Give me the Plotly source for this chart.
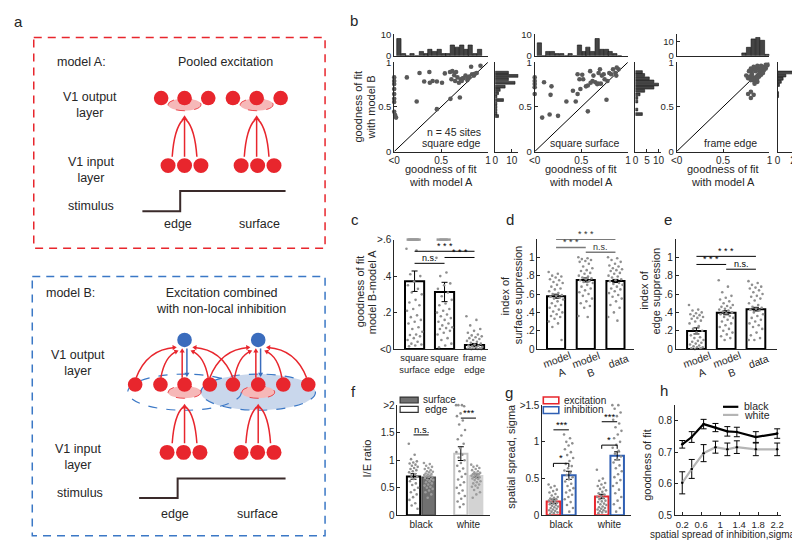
import math
import plotly.graph_objects as go

W, H = 800, 542
FONT = "Liberation Sans, Arial, Helvetica, sans-serif"
INK = "#262626"
RED = "#e8262d"
BLUE = "#2f5fb3"
DOT = "#8f8f8f"

# ======================= DATA =======================
# ---- panel b : goodness of fit, model A (x) vs model B (y), 45 sites ----
b1_model_a = [0, 0, 0, 0, 0, 0, 0, 0, 0.01, 0.02, 0.135, 0.24, 0.27, 0.375, 0.32, 0.38, 0.41,
              0.455, 0.51, 0.455, 0.54, 0.595, 0.62, 0.66, 0.64, 0.61, 0.65, 0.675, 0.69, 0.71,
              0.73, 0.76, 0.82, 0.92, 0.83, 0.79, 0.85, 0.88, 0.70, 0.60, 0.72, 0.78, 0.74, 0.80, 0.86]
b1_model_b = [0.83, 0.79, 0.755, 0.70, 0.645, 0.59, 0.555, 0.445, 0.41, 0.38, 0.83, 0.56, 0.88,
              0.89, 0.785, 0.77, 0.79, 0.785, 0.77, 0.475, 0.875, 0.89, 0.90, 0.89, 0.855, 0.81,
              0.79, 0.83, 0.77, 0.81, 0.82, 0.85, 0.95, 0.96, 0.865, 0.83, 0.85, 0.88, 0.605, 0.59,
              0.79, 0.80, 0.82, 0.84, 0.87]
b2_model_a = [0, 0, 0, 0, 0, 0.10, 0.08, 0.16, 0.17, 0.18, 0.25, 0.34, 0.41, 0.44, 0.46, 0.49,
              0.46, 0.48, 0.51, 0.52, 0.57, 0.57, 0.595, 0.63, 0.65, 0.67, 0.685, 0.70, 0.72, 0.74,
              0.71, 0.77, 0.78, 0.82, 0.84, 0.865, 0.88, 0.90, 0.875, 0.80, 0.75, 0.62, 0.55, 0.68, 0.60]
b2_model_b = [0.83, 0.79, 0.755, 0.72, 0.645, 0.775, 0.38, 0.415, 0.635, 0.73, 0.40, 0.56, 0.68,
              0.56, 0.645, 0.70, 0.865, 0.81, 0.86, 0.81, 0.45, 0.74, 0.90, 0.85, 0.775, 0.755,
              0.88, 0.92, 0.85, 0.865, 0.76, 0.58, 0.79, 0.865, 0.92, 0.88, 0.94, 0.92, 0.85, 0.88,
              0.81, 0.79, 0.73, 0.76, 0.77]
b3_model_a = [0.75, 0.77, 0.79, 0.80, 0.81, 0.82, 0.83, 0.84, 0.85, 0.86, 0.87, 0.87, 0.88, 0.89,
              0.90, 0.91, 0.92, 0.93, 0.94, 0.95, 0.96, 0.97, 0.98, 0.96, 0.94, 0.92, 0.90, 0.88,
              0.86, 0.84, 0.82, 0.80, 0.83, 0.87, 0.91, 0.85, 0.89, 0.93, 0.81, 0.78, 0.77, 0.80,
              0.83, 0.80, 0.84]
b3_model_b = [0.85, 0.82, 0.84, 0.80, 0.86, 0.83, 0.80, 0.78, 0.82, 0.84, 0.82, 0.78, 0.86, 0.84,
              0.88, 0.86, 0.90, 0.92, 0.94, 0.95, 0.93, 0.96, 0.97, 0.97, 0.91, 0.94, 0.92, 0.93,
              0.94, 0.93, 0.92, 0.93, 0.95, 0.96, 0.96, 0.90, 0.90, 0.88, 0.88, 0.90, 0.645, 0.60,
              0.635, 0.67, 0.76]
b_top_bins = [0.05, 0.10, 0.14, 0.19, 0.24, 0.29, 0.34, 0.38, 0.43, 0.48, 0.53, 0.57, 0.62,
              0.67, 0.72, 0.77, 0.81, 0.86, 0.91]
b1_top_counts = [8, 1, 0, 1, 0, 2, 1, 3, 2, 3, 1, 1, 5, 4, 5, 3, 5, 1, 3]
b2_top_counts = [6, 0, 2, 2, 1, 1, 0, 1, 0, 5, 2, 4, 2, 8, 3, 3, 2, 1, 0]
b3_top_bins = [0.725, 0.775, 0.825, 0.875, 0.925, 0.975]
b3_top_counts = [2, 6, 12, 13, 11, 1]
b1_right_bins = [0.398, 0.427, 0.464, 0.50, 0.536, 0.577, 0.617, 0.653, 0.69, 0.726, 0.77,
                 0.81, 0.847, 0.883]
b1_right_counts = [2, 1, 1, 1, 1, 5, 1, 2, 3, 6, 12, 8, 14, 8]
b2_right_bins = [0.42, 0.47, 0.56, 0.60, 0.64, 0.68, 0.715, 0.75, 0.785, 0.82, 0.857, 0.89]
b2_right_counts = [3, 1, 1, 1, 2, 4, 8, 10, 8, 6, 4, 3]
b3_right_bins = [0.62, 0.655, 0.745, 0.78, 0.815, 0.85, 0.885]
b3_right_counts = [1, 1, 2, 4, 6, 9, 21]
b_titles = ["square edge", "square surface", "frame edge"]

# ---- panel c ----
c_labels = ["square<br>surface", "square<br>edge", "frame<br>edge"]
c_means = [0.372, 0.313, 0.023]
c_errs = [0.056, 0.053, 0.008]
c_points = [
    [0.55, 0.54, 0.41, 0.40, 0.37, 0.35, 0.33, 0.31, 0.30, 0.27, 0.255, 0.24, 0.22, 0.21, 0.185,
     0.175, 0.16, 0.15, 0.14, 0.12, 0.11, 0.095, 0.08, 0.077, 0.07, 0.06, 0.05, 0.04, 0.03, 0.025,
     0.02, 0.015],
    [0.50, 0.42, 0.40, 0.36, 0.35, 0.33, 0.31, 0.29, 0.27, 0.25, 0.24, 0.22, 0.21, 0.20, 0.19,
     0.18, 0.17, 0.16, 0.15, 0.14, 0.13, 0.12, 0.115, 0.11, 0.10, 0.09, 0.08, 0.06, 0.05, 0.03,
     0.02, 0.01],
    [0.18, 0.16, 0.13, 0.11, 0.10, 0.09, 0.08, 0.075, 0.07, 0.065, 0.06, 0.055, 0.05, 0.045, 0.04,
     0.035, 0.03, 0.025, 0.02, 0.018, 0.015, 0.012, 0.01, 0.008, 0.005, 0.003, 0.002, 0.001, 0.0, 0.0],
]
c_clipped = [3, 2, 0]          # points above the ">.6" limit
c_sig = [(1, 3, 0.536, "* * *"), (2, 3, 0.502, "* * *"), (1, 2, 0.47, "n.s.")]

# ---- panels d, e ----
de_labels = ["model<br>A", "model<br>B", "data"]
d_means = [0.576, 0.753, 0.742]
d_errs = [0.022, 0.022, 0.017]
d_points = [
    [0.84, 0.82, 0.80, 0.79, 0.78, 0.76, 0.75, 0.73, 0.72, 0.70, 0.68, 0.66, 0.65, 0.63, 0.61,
     0.60, 0.59, 0.58, 0.57, 0.56, 0.55, 0.54, 0.52, 0.50, 0.48, 0.47, 0.45, 0.43, 0.41, 0.40,
     0.38, 0.36, 0.35, 0.33, 0.30, 0.28, 0.24, 0.10],
    [1.0, 0.99, 0.98, 0.97, 0.96, 0.95, 0.93, 0.90, 0.88, 0.86, 0.85, 0.83, 0.82, 0.80, 0.79,
     0.78, 0.77, 0.76, 0.75, 0.74, 0.73, 0.72, 0.70, 0.68, 0.66, 0.64, 0.62, 0.60, 0.58, 0.55,
     0.52, 0.50, 0.47, 0.45, 0.36, 0.35],
    [1.0, 0.99, 0.97, 0.95, 0.93, 0.91, 0.90, 0.88, 0.87, 0.86, 0.85, 0.83, 0.82, 0.80, 0.79,
     0.78, 0.76, 0.75, 0.74, 0.72, 0.71, 0.70, 0.68, 0.66, 0.65, 0.63, 0.61, 0.59, 0.57, 0.55,
     0.52, 0.48, 0.45, 0.40, 0.35, 0.31],
]
d_sig = [(1, 3, 1.195, "* * *"), (1, 2, 1.107, "* * *"), (2, 3, 1.054, "n.s.")]
e_means = [0.198, 0.396, 0.435]
e_errs = [0.033, 0.022, 0.02]
e_points = [
    [0.48, 0.43, 0.42, 0.40, 0.39, 0.38, 0.37, 0.36, 0.35, 0.34, 0.33, 0.31, 0.30, 0.28, 0.25,
     0.22, 0.20, 0.18, 0.15, 0.13, 0.12, 0.10, 0.09, 0.08, 0.07, 0.06, 0.05, 0.04, 0.03, 0.02,
     0.02, 0.01, 0.01, 0.0],
    [0.75, 0.68, 0.62, 0.58, 0.56, 0.54, 0.52, 0.50, 0.48, 0.47, 0.46, 0.45, 0.44, 0.43, 0.42,
     0.41, 0.40, 0.39, 0.38, 0.36, 0.35, 0.34, 0.32, 0.30, 0.28, 0.26, 0.24, 0.22, 0.20, 0.18,
     0.16, 0.14, 0.12, 0.10],
    [0.74, 0.72, 0.70, 0.68, 0.67, 0.66, 0.64, 0.62, 0.60, 0.58, 0.57, 0.55, 0.53, 0.50, 0.48,
     0.46, 0.45, 0.44, 0.43, 0.42, 0.40, 0.38, 0.36, 0.34, 0.32, 0.30, 0.28, 0.26, 0.24, 0.22,
     0.18, 0.15, 0.12, 0.10, 0.10],
]
e_sig = [(1, 3, 1.01, "* * *"), (1, 2, 0.922, "* * *"), (2, 3, 0.87, "n.s.")]

# ---- panel f : I/E ratio ----
fg_groups = ["black", "white"]
f_edge_means = [0.706, 1.12]
f_edge_errs = [0.05, 0.125]
f_surface_means = [0.69, 0.72]
f_surface_errs = [0.02, 0.03]
f_edge_points = [
    [1.30, 1.10, 1.02, 0.98, 0.96, 0.94, 0.92, 0.90, 0.88, 0.86, 0.84, 0.82, 0.80, 0.78, 0.75,
     0.72, 0.70, 0.66, 0.62, 0.58, 0.55, 0.50, 0.46, 0.42, 0.38, 0.33, 0.28, 0.22, 0.18, 0.12],
    [2.0, 2.0, 2.0, 1.98, 1.85, 1.80, 1.72, 1.65, 1.55, 1.45, 1.38, 1.30, 1.22, 1.15, 1.10, 1.05,
     1.0, 0.95, 0.9, 0.85, 0.8, 0.75, 0.7, 0.65, 0.6, 0.55, 0.5, 0.45, 0.4, 0.35, 0.3, 0.25, 0.2, 0.15],
]
f_surface_points = [
    [0.95, 0.93, 0.90, 0.88, 0.86, 0.84, 0.82, 0.80, 0.79, 0.78, 0.76, 0.75, 0.74, 0.73, 0.72,
     0.71, 0.70, 0.69, 0.68, 0.66, 0.65, 0.64, 0.62, 0.60, 0.58, 0.56, 0.54, 0.52, 0.50, 0.48,
     0.45, 0.42, 0.38, 0.32],
    [0.92, 0.90, 0.88, 0.86, 0.84, 0.82, 0.80, 0.78, 0.77, 0.76, 0.75, 0.74, 0.73, 0.72, 0.71,
     0.70, 0.69, 0.68, 0.67, 0.66, 0.64, 0.62, 0.60, 0.58, 0.56, 0.54, 0.52, 0.50, 0.46, 0.42,
     0.38, 0.32],
]
f_sig = [(1, 1.46, "n.s."), (2, 1.765, "***")]

# ---- panel g : spatial spread ----
g_exc_means = [0.19, 0.257]
g_exc_errs = [0.03, 0.03]
g_inh_means = [0.545, 0.81]
g_inh_errs = [0.055, 0.055]
g_exc_points = [
    [0.42, 0.40, 0.38, 0.35, 0.33, 0.31, 0.29, 0.27, 0.25, 0.24, 0.23, 0.22, 0.21, 0.20, 0.19,
     0.18, 0.17, 0.16, 0.15, 0.14, 0.13, 0.12, 0.11, 0.10, 0.09, 0.08, 0.07, 0.06, 0.05, 0.04,
     0.03, 0.02],
    [0.62, 0.50, 0.47, 0.44, 0.42, 0.40, 0.38, 0.36, 0.34, 0.32, 0.30, 0.28, 0.26, 0.25, 0.24,
     0.22, 0.20, 0.19, 0.18, 0.16, 0.15, 0.14, 0.12, 0.11, 0.10, 0.09, 0.08, 0.07, 0.06, 0.05,
     0.04, 0.03],
]
g_inh_points = [
    [1.10, 1.05, 1.00, 0.98, 0.95, 0.90, 0.86, 0.82, 0.78, 0.74, 0.70, 0.67, 0.64, 0.61, 0.58,
     0.55, 0.52, 0.49, 0.46, 0.43, 0.40, 0.37, 0.34, 0.31, 0.28, 0.25, 0.22, 0.18, 0.14, 0.10, 0.05],
    [1.50, 1.50, 1.45, 1.40, 1.35, 1.30, 1.25, 1.20, 1.15, 1.10, 1.05, 1.00, 0.96, 0.92, 0.88,
     0.84, 0.80, 0.76, 0.72, 0.68, 0.64, 0.60, 0.56, 0.52, 0.48, 0.44, 0.40, 0.35, 0.30, 0.25,
     0.20, 0.15, 0.10, 0.05],
]
g_sig_main = [(1, 1.164, "***"), (2, 1.274, "***")]
g_sig_bracket = [(1, 0.708, "*"), (2, 0.956, "*")]

# ---- panel h ----
h_sigma = [0.2, 0.4, 0.65, 0.9, 1.15, 1.35, 1.75, 2.2]
h_black = [0.725, 0.748, 0.789, 0.778, 0.766, 0.764, 0.748, 0.759]
h_black_err = [0.012, 0.017, 0.015, 0.013, 0.015, 0.015, 0.017, 0.015]
h_white = [0.603, 0.647, 0.697, 0.716, 0.709, 0.716, 0.709, 0.709]
h_white_err = [0.035, 0.03, 0.027, 0.019, 0.02, 0.02, 0.02, 0.02]

# ======================= FIGURE =======================
fig = go.Figure()
layout = dict(width=W, height=H, margin=dict(l=0, r=0, t=0, b=0),
              paper_bgcolor="white", plot_bgcolor="rgba(0,0,0,0)", showlegend=False,
              barmode="overlay", font=dict(family=FONT, size=10, color=INK))
shapes, annots = [], []


def xr(i):
    return "x" if i == 1 else f"x{i}"


def yr(i):
    return "y" if i == 1 else f"y{i}"


def add_axes(i, x0, x1, y0, y1, xrange, yrange, xkw=None, ykw=None):
    base = dict(showline=True, linecolor=INK, linewidth=0.8, ticks="inside", ticklen=3,
                tickwidth=0.8, tickcolor=INK, showgrid=False, zeroline=False,
                tickfont=dict(size=10, color=INK, family=FONT))
    xa = dict(base, domain=[x0 / W, x1 / W], range=xrange, anchor=yr(i), tickangle=0)
    xa.update(xkw or {})
    ya = dict(base, domain=[1 - y1 / H, 1 - y0 / H], range=yrange, anchor=xr(i))
    ya.update(ykw or {})
    layout["xaxis" if i == 1 else f"xaxis{i}"] = xa
    layout["yaxis" if i == 1 else f"yaxis{i}"] = ya


def text_px(x, y, t, size=11, angle=0, xanchor="center", color=INK):
    annots.append(dict(x=x / W, y=1 - y / H, xref="paper", yref="paper", text=t, showarrow=False,
                       textangle=angle, xanchor=xanchor, yanchor="middle",
                       font=dict(size=size, color=color, family=FONT)))


def rect_px(x0, y0, x1, y1, fill, line, lw=1.5):
    shapes.append(dict(type="rect", xref="paper", yref="paper", x0=x0 / W, x1=x1 / W,
                       y0=1 - y1 / H, y1=1 - y0 / H, fillcolor=fill, line=dict(color=line, width=lw)))


def spread(n, half):
    return [((k * 0.6180339887) % 1 - 0.5) * 2 * half for k in range(n)]


def sig_line(i, x0, x1, y, t, color="black", lw=1.0, bracket=0.0, size=9, tcolor="black"):
    shapes.append(dict(type="line", xref=xr(i), yref=yr(i), x0=x0, x1=x1, y0=y, y1=y,
                       line=dict(color=color, width=lw)))
    if bracket:
        for xx in (x0, x1):
            shapes.append(dict(type="line", xref=xr(i), yref=yr(i), x0=xx, x1=xx, y0=y,
                               y1=y - bracket, line=dict(color=color, width=lw)))
    annots.append(dict(x=(x0 + x1) / 2, y=y, xref=xr(i), yref=yr(i), text=t, showarrow=False,
                       yanchor="bottom", yshift=-2, font=dict(size=size, color=tcolor, family=FONT)))


# ---------------- panel b ----------------
b_cfg = [
    (1, 385, 480, 487.3, 510.7, [0, 14], [0, 10], [0, 10], b1_model_a, b1_model_b, b_top_bins,
     b1_top_counts, b1_right_bins, b1_right_counts),
    (4, 527.3, 621.7, 629.3, 655, [0, 11], [0, 5, 10], [0, 10], b2_model_a, b2_model_b,
     b_top_bins, b2_top_counts, b2_right_bins, b2_right_counts),
    (7, 671, 765, 773.3, 796, [0, 24.5], [0, 20], [0, 15.3], b3_model_a, b3_model_b, b3_top_bins,
     b3_top_counts, b3_right_bins, b3_right_counts),
]
SY0, SY1 = 49.3, 140.7
TY0, TY1 = 20.7, 42.7
unit = [0, 1]
small = dict(size=9.5, color=INK, family=FONT)
for k, (i, sx0, sx1, rx0, rx1, rrange, rticks, trange, xa, yb, tb, tc, rb, rc) in enumerate(b_cfg):
    add_axes(i, sx0, sx1, SY0, SY1, [0, 1], [0, 1],
             dict(tickvals=[0, 0.5, 1], ticktext=["<0", "0.5", "1"]),
             dict(tickvals=[0, 0.5, 1], ticktext=["0", "0.5", "1"], tickfont=small))
    add_axes(i + 1, sx0, sx1, TY0, TY1, [0, 1], trange,
             dict(showticklabels=False, ticks=""), dict(tickvals=[0, 10], tickfont=small))
    add_axes(i + 2, rx0, rx1, SY0, SY1, rrange, [0, 1],
             dict(tickvals=rticks), dict(showticklabels=False, ticks=""))
    fig.add_trace(go.Scatter(x=unit, y=unit, mode="lines", line=dict(color="black", width=1),
                             xaxis=xr(i), yaxis=yr(i), hoverinfo="skip"))
    fig.add_trace(go.Scatter(x=xa, y=yb, mode="markers", cliponaxis=False,
                             marker=dict(size=4.6, color="#595959"), xaxis=xr(i), yaxis=yr(i)))
    fig.add_trace(go.Bar(x=tb, y=tc, width=0.046, marker=dict(color="#454545",
                  line=dict(color="#111111", width=0.6)), xaxis=xr(i + 1), yaxis=yr(i + 1)))
    fig.add_trace(go.Bar(x=rc, y=rb, orientation="h", width=0.031, marker=dict(color="#454545",
                  line=dict(color="#111111", width=0.6)), xaxis=xr(i + 2), yaxis=yr(i + 2)))
    if k == 0:
        text_px(sx1 - 5, 121, "n = 45 sites", 10.5, xanchor="right")
    text_px(sx1 - 5 - (1 if k == 1 else 0) - (6 if k == 2 else 0), 132, b_titles[k], 10.5,
            xanchor="right")
    text_px((sx0 + sx1) / 2, 158, "goodness of fit", 11)
    text_px((sx0 + sx1) / 2, 172, "with model A", 11)
text_px(348, 95, "goodness of fit", 11, -90)
text_px(361, 95, "with model B", 11, -90)

# ---------------- panel c ----------------
CAT = [1, 2, 3]
add_axes(10, 385, 480, 230.7, 342.7, [0.32, 3.45], [0, 0.6],
         dict(tickvals=CAT, ticktext=c_labels, ticks="", tickangle=0,
              tickfont=dict(size=9.3, color=INK, family=FONT)),
         dict(tickvals=[0, 0.2, 0.4, 0.6], ticktext=["<0", ".2", ".4", ">.6"]))


def bar_panel(i, means, errs, points, half=0.27, w=0.64):
    fig.add_trace(go.Bar(x=CAT, y=means, width=w, marker=dict(color="white",
                  line=dict(color="black", width=2)),
                  error_y=dict(type="data", array=errs, color="black", thickness=1, width=3),
                  xaxis=xr(i), yaxis=yr(i)))
    for c, pts in zip(CAT, points):
        fig.add_trace(go.Scatter(x=[c + d for d in spread(len(pts), half)], y=pts, mode="markers",
                                 cliponaxis=False, marker=dict(size=2.6, color=DOT),
                                 xaxis=xr(i), yaxis=yr(i)))


bar_panel(10, c_means, c_errs, c_points)
for c, n in zip(CAT, c_clipped):
    if n:
        fig.add_trace(go.Scatter(x=[c + d for d in spread(n, 0.08)], y=[0.6] * n, mode="markers",
                                 cliponaxis=False,
                                 marker=dict(symbol="line-ew", size=8, line=dict(color="#9a9a9a", width=2.5)),
                                 xaxis=xr(10), yaxis=yr(10)))
for a, b, y, t in c_sig:
    sig_line(10, a, b, y, t)
text_px(350, 284, "goodness of fit", 11, -90)
text_px(362, 284, "model B-model A", 11, -90)

# ---------------- panels d, e ----------------
de_xkw = dict(tickvals=CAT, showticklabels=False, ticks="")
de_ykw = dict(tickvals=[0, 0.2, 0.4, 0.6, 0.8, 1], ticktext=["0", ".2", ".4", ".6", ".8", "1"])
add_axes(11, 530, 628, 230, 342.7, [0.37, 3.63], [0, 1.2], de_xkw, de_ykw)
add_axes(12, 670, 773, 230, 342.7, [0.3, 3.72], [0, 1.2], de_xkw, de_ykw)
bar_panel(11, d_means, d_errs, d_points, half=0.25, w=0.61)
bar_panel(12, e_means, e_errs, e_points, half=0.25, w=0.63)
for i in (11, 12):
    for c, lab in zip(CAT, de_labels):
        two = "<br>" in lab
        annots.append(dict(x=c, y=1 - (360 if two else 354.5) / H, xref=xr(i), yref="paper",
                           text=lab, showarrow=False, textangle=-20, xanchor="center",
                           yanchor="middle", xshift=3,
                           font=dict(size=10.5, color=INK, family=FONT)))
for a, b, y, t in d_sig:
    sig_line(11, a, b, y, t, color="#7a7a7a", lw=1.5, tcolor="#333333")
for a, b, y, t in e_sig:
    sig_line(12, a, b, y, t)
text_px(497, 288, "index of", 11, -90)
text_px(510, 288, "surface suppression", 11, -90)
text_px(638, 283, "index of", 11, -90)
text_px(650, 283, "edge suppression", 11, -90)

# ---------------- panel f ----------------
GRP = [1, 2]
OFF = 0.16
BW = 0.28
add_axes(13, 388.3, 481.7, 400, 512.7, [0.5, 2.45], [0, 2],
         dict(tickvals=GRP, ticktext=fg_groups, ticks=""),
         dict(tickvals=[0, 0.5, 1, 1.5, 2], ticktext=["0", "0.5", "1", "1.5", ">2"]))
fig.add_trace(go.Bar(x=[g - OFF for g in GRP], y=f_edge_means, width=BW,
                     marker=dict(color="white", line=dict(color=["black", "#c4c4c4"], width=2)),
                     error_y=dict(type="data", array=f_edge_errs, color="black", thickness=1, width=3),
                     xaxis=xr(13), yaxis=yr(13)))
fig.add_trace(go.Bar(x=[g + OFF for g in GRP], y=f_surface_means, width=BW,
                     marker=dict(color=["#707070", "#d3d3d3"], line=dict(color=["#4d4d4d", "#d3d3d3"], width=1.5)),
                     error_y=dict(type="data", array=f_surface_errs, color="black", thickness=1, width=3),
                     xaxis=xr(13), yaxis=yr(13)))
for g, pe, ps in zip(GRP, f_edge_points, f_surface_points):
    fig.add_trace(go.Scatter(x=[g - OFF + d for d in spread(len(pe), 0.1)], y=pe, mode="markers",
                             cliponaxis=False, marker=dict(size=2.6, color=DOT), xaxis=xr(13), yaxis=yr(13)))
    fig.add_trace(go.Scatter(x=[g + OFF + d for d in spread(len(ps), 0.1)], y=ps, mode="markers",
                             cliponaxis=False, marker=dict(size=2.6, color="#9c9c9c"), xaxis=xr(13), yaxis=yr(13)))
for g, y, t in f_sig:
    sig_line(13, g - OFF, g + OFF, y, t, size=9.5)
rect_px(391, 391.7, 409.3, 397.8, "#707070", "#333333", 1.2)
rect_px(391, 401.2, 409.3, 407.3, "white", "#333333", 1.2)
text_px(412, 394.5, "surface", 10, xanchor="left")
text_px(414, 404.5, "edge", 10, xanchor="left")
text_px(357, 455, "I/E ratio", 11, -90)

# ---------------- panel g ----------------
add_axes(14, 535, 625, 400, 512.7, [0.61, 2.45], [0, 1.5],
         dict(tickvals=GRP, ticktext=fg_groups, ticks=""),
         dict(tickvals=[0, 0.5, 1, 1.5], ticktext=["0", "0.5", "1", ">1.5"]))
fig.add_trace(go.Bar(x=[g - OFF for g in GRP], y=g_exc_means, width=BW,
                     marker=dict(color="white", line=dict(color=RED, width=2)),
                     error_y=dict(type="data", array=g_exc_errs, color="black", thickness=1, width=3),
                     xaxis=xr(14), yaxis=yr(14)))
fig.add_trace(go.Bar(x=[g + OFF for g in GRP], y=g_inh_means, width=BW,
                     marker=dict(color="white", line=dict(color=BLUE, width=2)),
                     error_y=dict(type="data", array=g_inh_errs, color="black", thickness=1, width=3),
                     xaxis=xr(14), yaxis=yr(14)))
for g, pe, pi in zip(GRP, g_exc_points, g_inh_points):
    fig.add_trace(go.Scatter(x=[g - OFF + d for d in spread(len(pe), 0.1)], y=pe, mode="markers",
                             cliponaxis=False, marker=dict(size=2.6, color=DOT), xaxis=xr(14), yaxis=yr(14)))
    fig.add_trace(go.Scatter(x=[g + OFF + d for d in spread(len(pi), 0.1)], y=pi, mode="markers",
                             cliponaxis=False, marker=dict(size=2.6, color=DOT), xaxis=xr(14), yaxis=yr(14)))
for g, y, t in g_sig_main:
    sig_line(14, g - OFF, g + OFF, y, t, size=9.5)
for g, y, t in g_sig_bracket:
    sig_line(14, g - OFF, g + OFF, y, t, bracket=0.05, size=9.5)
rect_px(536, 391.7, 551.7, 398.5, "white", RED, 1.6)
rect_px(536, 401.7, 551.7, 408.5, "white", BLUE, 1.6)
text_px(555, 394.8, "excitation", 10, xanchor="left")
text_px(555, 404.8, "inhibition", 10, xanchor="left")
text_px(503, 452, "spatial spread, sigma", 11, -90)

# ---------------- panel h ----------------
add_axes(15, 669.3, 776.7, 400, 512.7, [0.046, 2.28], [0.5, 0.849],
         dict(tickvals=[0.2, 0.6, 1, 1.4, 1.8, 2.2], ticktext=["0.2", "0.6", "1", "1.4", "1.8", "2.2"],
              tickfont=dict(size=9.5, color=INK, family=FONT)),
         dict(tickvals=[0.5, 0.6, 0.7, 0.8], ticktext=["0.5", "0.6", "0.7", "0.8"]))
fig.add_trace(go.Scatter(x=h_sigma, y=h_white, mode="lines+markers",
                         line=dict(color="#b5b5b5", width=2.2), marker=dict(size=2.5, color="black"),
                         error_y=dict(type="data", array=h_white_err, color="black", thickness=1, width=3),
                         xaxis=xr(15), yaxis=yr(15)))
fig.add_trace(go.Scatter(x=h_sigma, y=h_black, mode="lines+markers",
                         line=dict(color="black", width=2.2), marker=dict(size=2.5, color="black"),
                         error_y=dict(type="data", array=h_black_err, color="black", thickness=1, width=3),
                         xaxis=xr(15), yaxis=yr(15)))
shapes.append(dict(type="line", xref="paper", yref="paper", x0=718 / W, x1=733.5 / W,
                   y0=1 - 401.7 / H, y1=1 - 401.7 / H, line=dict(color="black", width=2.2)))
shapes.append(dict(type="line", xref="paper", yref="paper", x0=718 / W, x1=733.5 / W,
                   y0=1 - 410 / H, y1=1 - 410 / H, line=dict(color="#b5b5b5", width=2.2)))
text_px(737, 401, "black", 10.5, xanchor="left")
text_px(737, 410, "white", 10.5, xanchor="left")
text_px(641, 461, "goodness of fit", 11, -90)
text_px(718, 532.5, "spatial spread of inhibition,sigma", 10)

# ---------------- panel letters ----------------
for L, x, y in [("a", 5, 8), ("b", 344, 7), ("c", 345, 210), ("d", 502, 210), ("e", 662, 210),
                ("f", 344, 386), ("g", 501, 387), ("h", 658, 385)]:
    text_px(x, y, L, 15)

# ---------------- panel a : schematic (pixel-space overlay) ----------------
layout["xaxis16"] = dict(domain=[0, 1], range=[0, W], visible=False, anchor="y16")
layout["yaxis16"] = dict(domain=[0, 1], range=[H, 0], visible=False, anchor="x16")
fig.add_trace(go.Scatter(x=[0], y=[0], mode="markers", marker=dict(opacity=0), xaxis="x16",
                         yaxis="y16", hoverinfo="skip"))
OV = dict(xref="x16", yref="y16", layer="above")
PINK = "#f6b8b8"
BLUE_D = "#3b78c6"
BLUE_C = "#3a6cbd"
STIM = "#3a2a2a"


def circ(cx, cy, rx, ry, fill, line=None, lw=0, dash="solid"):
    shapes.append(dict(type="circle", x0=cx - rx, x1=cx + rx, y0=cy - ry, y1=cy + ry,
                       fillcolor=fill, line=dict(color=line or fill, width=lw, dash=dash), **OV))


def head(p1, c, color, size=4.5, hw=3.0):
    dx, dy = p1[0] - c[0], p1[1] - c[1]
    L = math.hypot(dx, dy)
    ux, uy = dx / L, dy / L
    tip = (p1[0] + ux * size * 0.5, p1[1] + uy * size * 0.5)
    bs = (p1[0] - ux * size * 0.5, p1[1] - uy * size * 0.5)
    nx, ny = -uy, ux
    a = (bs[0] + nx * hw, bs[1] + ny * hw)
    b = (bs[0] - nx * hw, bs[1] - ny * hw)
    shapes.append(dict(type="path", path=f"M {tip[0]},{tip[1]} L {a[0]},{a[1]} L {b[0]},{b[1]} Z",
                       fillcolor=color, line=dict(width=0), **OV))


def curve(p0, c, p1, color, lw=1.5, with_head=True, hsize=4.5, hw=3.0):
    shapes.append(dict(type="path", path=f"M {p0[0]},{p0[1]} Q {c[0]},{c[1]} {p1[0]},{p1[1]}",
                       line=dict(color=color, width=lw), **OV))
    if with_head:
        head(p1, c, color, hsize, hw)


# boxes
shapes.append(dict(type="rect", x0=20, x1=315, y0=24, y1=239.5, fillcolor="rgba(0,0,0,0)",
                   line=dict(color=RED, width=1.5, dash="8px,6px"), **OV))
shapes.append(dict(type="rect", x0=18.5, x1=315, y0=268.5, y1=533.5, fillcolor="rgba(0,0,0,0)",
                   line=dict(color=BLUE_D, width=1.5, dash="8px,6px"), **OV))

# model A
for cx in (172.7, 245.7):
    circ(cx, 92.7, 16.7, 6.2, PINK, RED, 0.8, "dash")
for cx in (149, 172.7, 196.7, 221.7, 245.7, 270):
    circ(cx, 86, 7.4, 7.4, RED)
for cx in (156, 172.7, 189.3, 230, 246.7, 263.3):
    circ(cx, 155, 7.6, 7.6, RED)
for cx in (172.7, 245.7):
    curve((cx - 12.5, 146), (cx - 10.5, 117), (cx - 1.5, 108), RED, with_head=False)
    curve((cx + 12.5, 146), (cx + 10.5, 117), (cx + 1.5, 108), RED, with_head=False)
    curve((cx, 146), (cx, 126), (cx, 106), RED, hsize=5, hw=3.2)
shapes.append(dict(type="path", path="M 130,201.7 L 168.3,201.7 L 168.3,181 L 275,181",
                   line=dict(color=STIM, width=2), **OV))

# model B
circ(247.3, 386.7, 58, 18.5, "#c9d7ec", BLUE_D, 1.2, "dash")
circ(172.7, 386.7, 57.5, 18.5, "rgba(0,0,0,0)", BLUE_D, 1.2, "dash")
for cx in (172.7, 247.3):
    circ(cx, 386.7, 16.7, 6.3, PINK, RED, 0.8, "dash")
for cx in (122.7, 148.3, 172.7, 198.3, 221.7, 247.3, 272.7, 298):
    circ(cx, 379, 7.4, 7.4, RED)
for cx in (155, 171.7, 188.3, 230, 246.7, 263.3):
    circ(cx, 448.3, 7.6, 7.6, RED)
for cx in (172.7, 247.3):
    curve((cx - 12.5, 439), (cx - 10.5, 410), (cx - 1.5, 402), RED, with_head=False)
    curve((cx + 12.5, 439), (cx + 10.5, 410), (cx + 1.5, 402), RED, with_head=False)
    curve((cx, 439), (cx, 420), (cx, 401), RED, hsize=5, hw=3.2)
    # excitatory inputs to the inhibitory neuron
    curve((cx - 49, 372), (cx - 38, 343), (cx - 10, 341), RED, hsize=4.2, hw=2.7)
    curve((cx - 24, 372), (cx - 20, 350), (cx - 8, 345), RED, hsize=4.2, hw=2.7)
    curve((cx + 24, 372), (cx + 20, 350), (cx + 8, 345), RED, hsize=4.2, hw=2.7)
    curve((cx + 49, 372), (cx + 38, 343), (cx + 10, 341), RED, hsize=4.2, hw=2.7)
    curve((cx - 2.4, 372), (cx - 2.4, 357), (cx - 2.4, 344), RED, hsize=4.2, hw=2.6)
    curve((cx + 2.4, 342), (cx + 2.4, 356), (cx + 2.4, 369), BLUE_C, hsize=4.2, hw=2.6)
for cx in (172.7, 247.3):
    circ(cx, 333.3, 7.4, 7.4, BLUE_C)
shapes.append(dict(type="path", path="M 126.7,495 L 165.7,495 L 165.7,475 L 275,475",
                   line=dict(color=STIM, width=2), **OV))

# schematic texts
text_px(68.5, 49.5, "model A:", 12.5)
text_px(214.5, 49.5, "Pooled excitation", 12.5)
text_px(76.7, 93, "V1 output<br>layer", 12.5)
text_px(77.7, 159.5, "V1 input<br>layer", 12.5)
text_px(77.7, 196.5, "stimulus", 12.5)
text_px(165.7, 215, "edge", 12.5)
text_px(248.3, 215, "surface", 12.5)
text_px(57, 285, "model B:", 12.5)
text_px(210, 293, "Excitation combined<br>with non-local inhibition", 12.5)
text_px(65, 357, "V1 output<br>layer", 12.5)
text_px(65, 453.5, "V1 input<br>layer", 12.5)
text_px(66.7, 490, "stimulus", 12.5)
text_px(163.3, 511.7, "edge", 12.5)
text_px(246.7, 511.7, "surface", 12.5)

layout["shapes"] = shapes
layout["annotations"] = annots
fig.update_layout(**layout)
fig.write_html("out.html")
